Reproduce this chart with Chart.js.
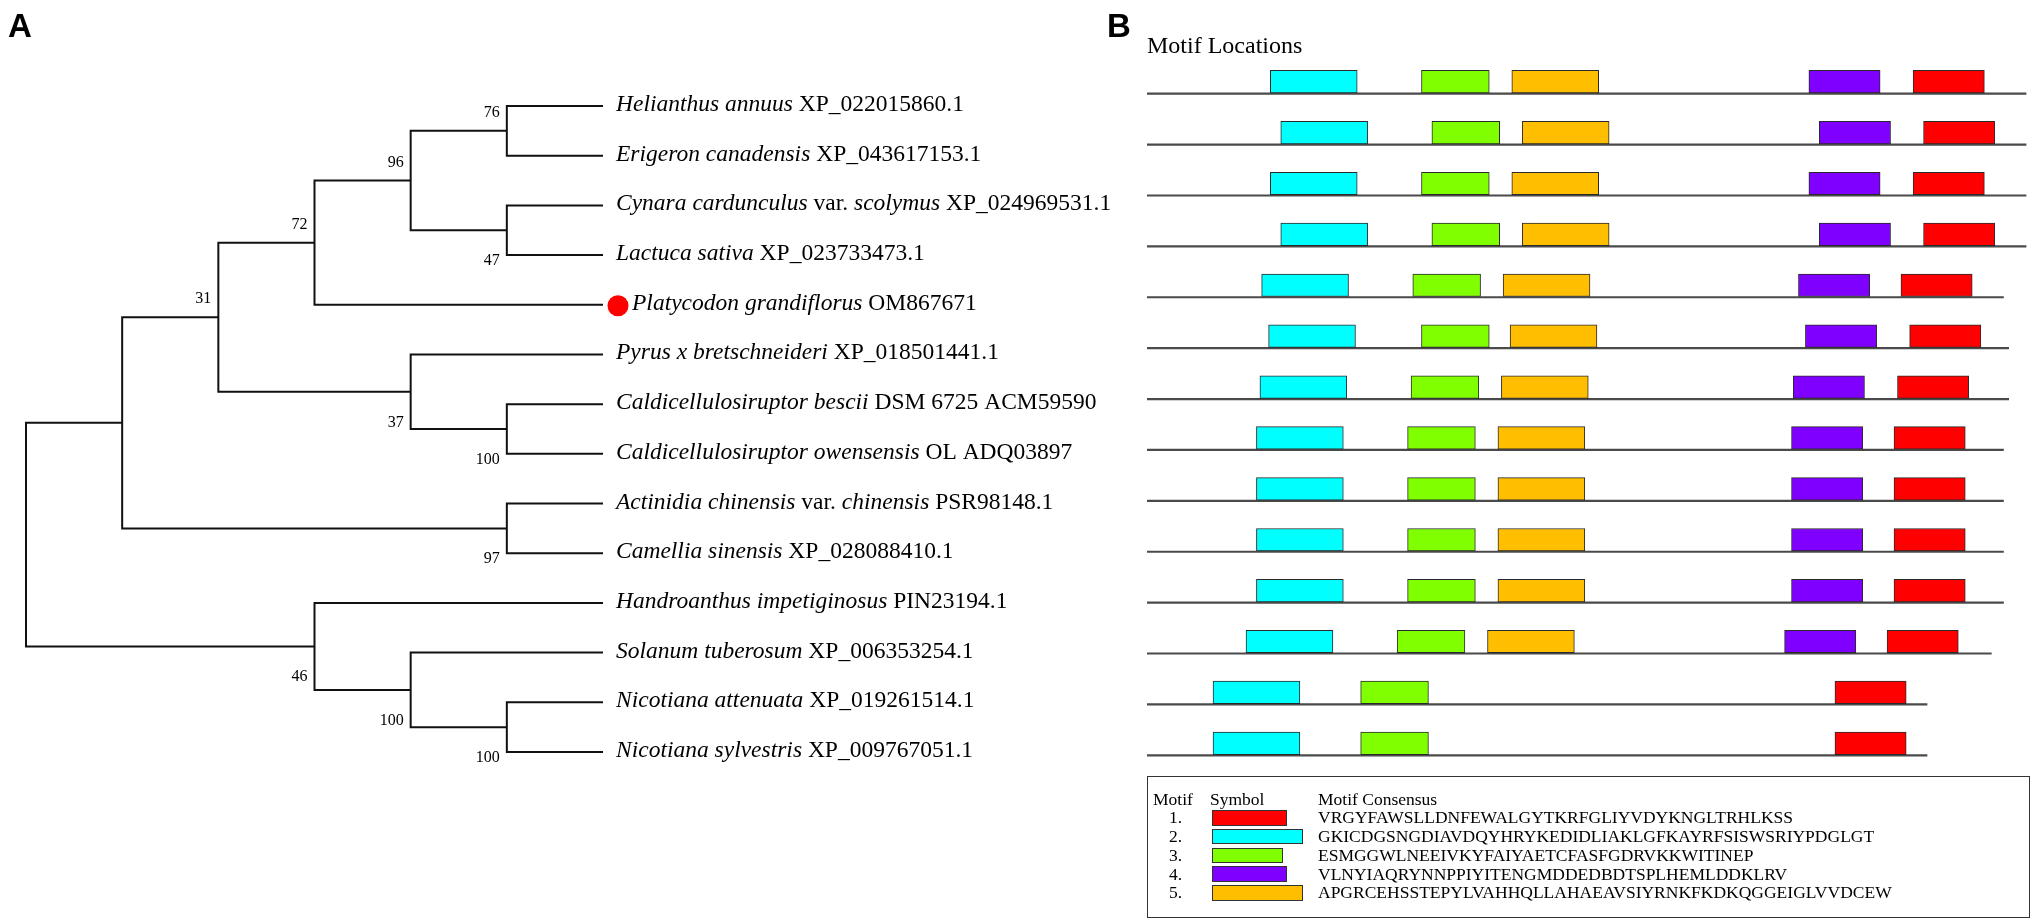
<!DOCTYPE html>
<html>
<head>
<meta charset="utf-8">
<title>Phylogenetic tree and motif locations</title>
<script src="https://cdn.jsdelivr.net/npm/chart.js@4.4.1/dist/chart.umd.min.js"></script>
<style>
    html, body { margin: 0; padding: 0; background: #fff; }
    #page { position: relative; width: 2033px; height: 921px; overflow: hidden; color: #000; }
    canvas { position: absolute; top: 0; }
    .panel { position: absolute; top: 9px; font: bold 33px/33px "Liberation Sans", Arial, sans-serif; }
    .serif { position: absolute; font-family: "Liberation Serif", "Times New Roman", serif; white-space: nowrap; }
    #motifTitle { left: 1147px; top: 33px; font-size: 24px; line-height: 24px; }
    #motifLegend { position: absolute; left: 1147px; top: 776px; width: 883px; height: 142px; box-sizing: border-box; border: 1.5px solid #333; }
    .sym { position: absolute; box-sizing: border-box; border: 1px solid #333; height: 15.5px; }
</style>
</head>
<body>
<div id="page">
    <canvas id="tree" width="1140" height="921" style="left:0;width:1140px;height:921px"></canvas>
    <canvas id="motifs" width="943" height="921" style="left:1090px;width:943px;height:921px"></canvas>
    <div class="panel" style="left:8px">A</div>
    <div class="panel" style="left:1107px">B</div>
    <div id="motifTitle" class="serif">Motif Locations</div>
    <div id="motifLegend"></div>
</div>
<script>
/**
 * Panel A: neighbour-joining tree (cladogram, depth = node level)
 */
const leafLabels = [
    "*Helianthus annuus* XP_022015860.1",
    "*Erigeron canadensis* XP_043617153.1",
    "*Cynara cardunculus* var. *scolymus* XP_024969531.1",
    "*Lactuca sativa* XP_023733473.1",
    "*Platycodon grandiflorus* OM867671",
    "*Pyrus x bretschneideri* XP_018501441.1",
    "*Caldicellulosiruptor bescii* DSM 6725 ACM59590",
    "*Caldicellulosiruptor owensensis* OL ADQ03897",
    "*Actinidia chinensis* var. *chinensis* PSR98148.1",
    "*Camellia sinensis* XP_028088410.1",
    "*Handroanthus impetiginosus* PIN23194.1",
    "*Solanum tuberosum* XP_006353254.1",
    "*Nicotiana attenuata* XP_019261514.1",
    "*Nicotiana sylvestris* XP_009767051.1"
];
const leafDepth = 6;
const highlightLeaf = 4; // Platycodon grandiflorus

const nodeIds = ["root", "n1", "n31", "n72", "n96", "n76", "n47", "n37", "n100a", "n97", "n46", "n100b", "n100c"];
const nodeDepth = [0, 1, 2, 3, 4, 5, 5, 4, 5, 5, 3, 4, 5];
const nodeChildren = [
    ["n1", "n46"], ["n31", "n97"], ["n72", "n37"], ["n96", "L4"], ["n76", "n47"],
    ["L0", "L1"], ["L2", "L3"], ["L5", "n100a"], ["L6", "L7"], ["L8", "L9"],
    ["L10", "n100b"], ["L11", "n100c"], ["L12", "L13"]
];
const nodeSupport = [null, null, 31, 72, 96, 76, 47, 37, 100, 97, 46, 100, 100];
const supportSide = ["", "", "above", "above", "above", "above", "below", "below", "below", "below", "below", "below", "below"];

/**
 * Panel B: MEME motif locations (amino-acid positions)
 */
const motifNames = ["Motif 1", "Motif 2", "Motif 3", "Motif 4", "Motif 5"];
const motifLengths = [41, 50, 39, 41, 50];
const motifConsensus = [
    "VRGYFAWSLLDNFEWALGYTKRFGLIYVDYKNGLTRHLKSS",
    "GKICDGSNGDIAVDQYHRYKEDIDLIAKLGFKAYRFSISWSRIYPDGLGT",
    "ESMGGWLNEEIVKYFAIYAETCFASFGDRVKKWITINEP",
    "VLNYIAQRYNNPPIYITENGMDDEDBDTSPLHEMLDDKLRV",
    "APGRCEHSSTEPYLVAHHQLLAHAEAVSIYRNKFKDKQGGEIGLVVDCEW"
];
const motif1Start = [441, 447, 441, 447, 434, 439, 432, 430, 430, 430, 430, 426, 396, 396];
const motif2Start = [71, 77, 71, 77, 66, 70, 65, 63, 63, 63, 63, 57, 38, 38];
const motif3Start = [158, 164, 158, 164, 153, 158, 152, 150, 150, 150, 150, 144, 123, 123];
const motif4Start = [381, 387, 381, 387, 375, 379, 372, 371, 371, 371, 371, 367, null, null];
const motif5Start = [210, 216, 210, 216, 205, 209, 204, 202, 202, 202, 202, 196, null, null];
const seqLengths = [506, 506, 506, 506, 493, 496, 496, 493, 493, 493, 493, 486, 449, 449];

const motifColors = ["#ff0000", "#00ffff", "#80ff00", "#8000ff", "#ffbf00"];

// ---------- tree geometry from topology ----------
const nodeIndex = {};
nodeIds.forEach((id, i) => { nodeIndex[id] = i; });

function depthOf(id) {
    return id[0] === "L" ? leafDepth : nodeDepth[nodeIndex[id]];
}

function rowOf(id) {
    if (id[0] === "L") return Number(id.slice(1));
    const [a, b] = nodeChildren[nodeIndex[id]];
    return (rowOf(a) + rowOf(b)) / 2;
}

// one elbow per internal node: child A -> node -> child B
const branchSets = nodeIds.map((id, i) => {
    const [a, b] = nodeChildren[i];
    return {
        data: [
            { x: depthOf(a), y: rowOf(a) },
            { x: nodeDepth[i], y: rowOf(a) },
            { x: nodeDepth[i], y: rowOf(b) },
            { x: depthOf(b), y: rowOf(b) }
        ],
        showLine: true,
        borderColor: "#111",
        borderWidth: 2,
        borderJoinStyle: "miter",
        pointRadius: 0,
        tension: 0,
        clip: false
    };
});

const treeText = {
    id: "treeText",
    afterDatasetsDraw(chart) {
        const { ctx, scales: { x, y } } = chart;
        ctx.save();
        ctx.textBaseline = "alphabetic";
        leafLabels.forEach((label, i) => {
            let px = x.getPixelForValue(leafDepth) + 13;
            const py = y.getPixelForValue(i);
            if (i === highlightLeaf) {
                ctx.beginPath();
                ctx.arc(px + 2, py + 1, 10.5, 0, Math.PI * 2);
                ctx.fillStyle = "#ff0000";
                ctx.fill();
                px += 16;
            }
            ctx.fillStyle = "#000";
            label.split("*").forEach((part, k) => {
                ctx.font = (k % 2 ? "italic " : "") + '23.5px "Liberation Serif"';
                ctx.fillText(part, px, py + 5);
                px += ctx.measureText(part).width;
            });
        });

        // bootstrap values
        ctx.font = '16px "Liberation Serif"';
        ctx.textAlign = "right";
        nodeIds.forEach((id, i) => {
            if (nodeSupport[i] == null) return;
            const nx = x.getPixelForValue(nodeDepth[i]) - 7;
            const ny = y.getPixelForValue(rowOf(id)) + (supportSide[i] === "above" ? -14 : 35);
            ctx.fillText(String(nodeSupport[i]), nx, ny);
        });
        ctx.restore();
    }
};

new Chart(document.getElementById("tree"), {
    type: "scatter",
    data: { datasets: branchSets },
    options: {
        animation: false,
        responsive: false,
        devicePixelRatio: 1,
        layout: { padding: { left: 26, right: 537, top: 106, bottom: 169 } },
        plugins: {
            legend: { display: false },
            tooltip: { enabled: false }
        },
        scales: {
            x: { type: "linear", min: 0, max: leafDepth, display: false },
            y: { type: "linear", min: 0, max: leafLabels.length - 1, reverse: true, display: false }
        }
    },
    plugins: [treeText]
});

// ---------- motif chart ----------
const motifStarts = [motif1Start, motif2Start, motif3Start, motif4Start, motif5Start];

const motifSets = motifStarts.map((starts, m) => ({
    label: motifNames[m],
    data: starts.map((s) => (s == null ? null : [s, s + motifLengths[m]])),
    stack: "motif",
    backgroundColor: motifColors[m],
    borderColor: "#2a2a2a",
    borderWidth: 1,
    borderSkipped: false,
    barThickness: 22.5
}));

const lineSet = {
    label: "sequence",
    data: seqLengths.map((len) => [0, len]),
    stack: "seq",
    backgroundColor: "#4a4a4a",
    borderWidth: 0,
    barThickness: 1.5
};

new Chart(document.getElementById("motifs"), {
    type: "bar",
    data: {
        labels: leafLabels.map((l) => l.replace(/\*/g, "")),
        datasets: [...motifSets, lineSet]
    },
    options: {
        indexAxis: "y", // horizontal bars
        animation: false,
        responsive: false,
        devicePixelRatio: 1,
        layout: { padding: { left: 57, right: 0, top: 67.5, bottom: 141 } },
        plugins: {
            legend: { display: false },
            tooltip: { enabled: false }
        },
        scales: {
            x: { type: "linear", min: 0, max: 510, stacked: false, display: false },
            y: { display: false }
        }
    }
});

// ---------- motif legend box ----------
const legendBox = document.getElementById("motifLegend");
const lineH = 18.7;
const headBase = 28;

function addText(text, left, baseline, extraStyle) {
    const el = document.createElement("div");
    el.className = "serif";
    el.textContent = text;
    el.style.cssText += `font-size:17.5px;line-height:${lineH}px;left:${left}px;top:${baseline - 15.3}px;` + (extraStyle || "");
    legendBox.appendChild(el);
    return el;
}

addText("Motif", 5, headBase);
addText("Symbol", 62, headBase);
addText("Motif Consensus", 170, headBase);

motifNames.forEach((name, m) => {
    const base = headBase + lineH * (m + 1);
    addText((m + 1) + ".", 0, base, "width:34px;text-align:right;");
    const sym = document.createElement("div");
    sym.className = "sym";
    sym.style.left = "64px";
    sym.style.top = (base - 13.5) + "px";
    sym.style.width = (motifLengths[m] * 1.82) + "px";
    sym.style.background = motifColors[m];
    legendBox.appendChild(sym);
    addText(motifConsensus[m], 170, base);
});
</script>
</body>
</html>
